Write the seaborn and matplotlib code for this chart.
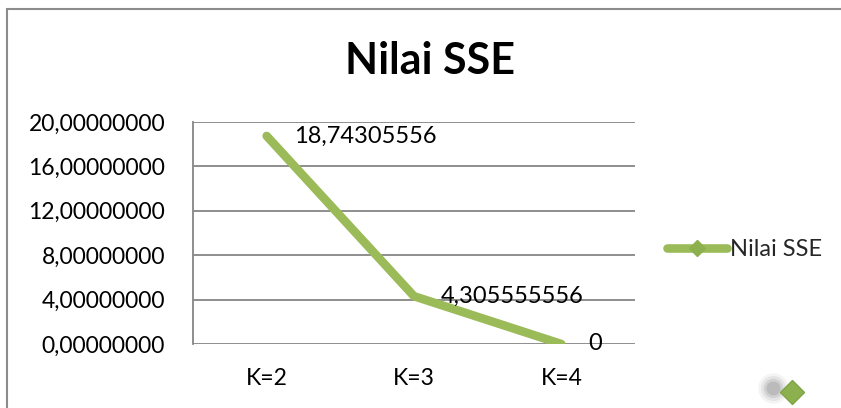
import matplotlib
matplotlib.use("Agg")
import matplotlib.pyplot as plt
import matplotlib.ticker as mticker
from matplotlib.lines import Line2D
from matplotlib.patches import Rectangle
import seaborn as sns
import pandas as pd

categories = ["K=2", "K=3", "K=4"]
sse_values = [18.74305556, 4.305555556, 0.0]
value_labels = ["18,74305556", "4,305555556", "0"]
y_ticks = [0, 4, 8, 12, 16, 20]
series_name = "Nilai SSE"
title = "Nilai SSE"

GREEN = "#9BBB59"
GRID = "#868686"
FS = 16.5

sns.set_theme(style="white")
plt.rcParams["font.family"] = ["Lato", "DejaVu Sans"]

fig = plt.figure(figsize=(8.41, 4.08), dpi=100)
ax = fig.add_axes([193 / 841, 1 - 344 / 408, (635 - 193) / 841, (344 - 122) / 408])

df = pd.DataFrame({"K": categories, "SSE": sse_values})
sns.lineplot(data=df, x="K", y="SSE", sort=False, ax=ax, color=GREEN,
             linewidth=6.2, solid_capstyle="round", solid_joinstyle="miter",
             legend=False)

ax.set_xlim(-0.5, len(categories) - 0.5)
ax.set_ylim(0, 20)
ax.set_yticks(y_ticks)
ax.yaxis.set_major_formatter(mticker.FuncFormatter(
    lambda v, p: f"{v:.8f}".replace(".", ",")))
ax.grid(axis="y", color=GRID, linewidth=1.3)
ax.set_axisbelow(True)
for s in ["top", "right", "bottom"]:
    ax.spines[s].set_visible(False)
ax.spines["left"].set_color(GRID)
ax.spines["left"].set_linewidth(1.3)
ax.tick_params(axis="y", length=0, pad=20, labelsize=FS, colors="black")
ax.tick_params(axis="x", length=0, pad=17, labelsize=FS, colors="black")
ax.set_xlabel("")
ax.set_ylabel("")

for i, (v, lab) in enumerate(zip(sse_values, value_labels)):
    ax.annotate(lab, (i, v), xytext=(27, 0), textcoords="offset pixels",
                ha="left", va="center", fontsize=FS + 0.5, color="black",
                annotation_clip=False)

fig.text(430 / 841, 1 - 61 / 408, title, ha="center", va="center",
         fontsize=31, fontweight="bold", color="black")

handle = Line2D([], [], color=GREEN, linewidth=6.2, solid_capstyle="round",
                marker="D", markersize=8, markerfacecolor="#8DB04E",
                markeredgecolor="#8DB04E")
fig.legend([handle], [series_name], loc="center left",
           bbox_to_anchor=(667 / 841, 1 - 250 / 408), frameon=False,
           fontsize=FS + 0.5, handlelength=2.55, handletextpad=0.12,
           borderpad=0, borderaxespad=0)

# chart border (extends past right and bottom edges)
fig.add_artist(Rectangle((6.5 / 841, -0.1), 1.0, 1 - 8.5 / 408 + 0.1,
                         transform=fig.transFigure, fill=False,
                         edgecolor="#8C8C8C", linewidth=1.5))

# stray marker with soft shadow at bottom right
for ms, a in [(22, 0.08), (18, 0.12), (14, 0.18), (10, 0.25)]:
    fig.add_artist(Line2D([773 / 841], [1 - 388 / 408], transform=fig.transFigure,
                          marker="o", markersize=ms, color="#7A7A7A", alpha=a,
                          markeredgewidth=0, linestyle="none"))
fig.add_artist(Line2D([792 / 841], [1 - 392 / 408], transform=fig.transFigure,
                      marker="D", markersize=12.5, color="#8DB04E",
                      markeredgecolor="#7FA545", linestyle="none"))

fig.savefig("out.png", dpi=100)
